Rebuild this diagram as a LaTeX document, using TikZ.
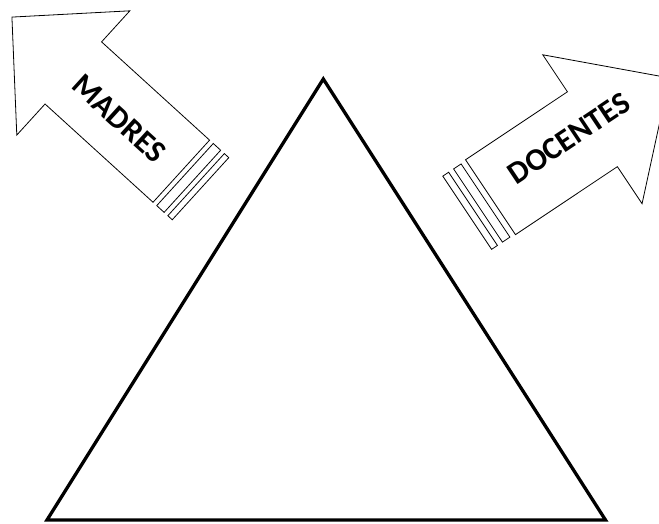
\documentclass[tikz,border=0pt]{standalone}
\usepackage{fontspec}
\setmainfont{Carlito}
\begin{document}
\begin{tikzpicture}[x=1pt,y=1pt,
  arrowline/.style={draw=black,line width=0.8pt,fill=white,line join=miter},
  arrowtext/.style={inner sep=0pt,font=\fontsize{31.5}{31.5}\selectfont\bfseries},
  tri/.style={draw=black,line width=3.3pt,line join=miter}]
\useasboundingbox (0,0) rectangle (659,523);
\clip (0,0) rectangle (659,523);
% triangle
\coordinate (apex) at (323.3,444);
\coordinate (bl) at (47,3);
\coordinate (br) at (605.5,3);
\draw[tri] (apex) -- (bl) -- (br) -- cycle;
% MADRES arrow
\begin{scope}[shift={(181.3,351.8)},rotate=137.7]
  \draw[arrowline] (0,-42) -- (146,-42) -- (146,-84) -- (229,0) -- (146,84) -- (146,42) -- (0,42) -- cycle;
  \draw[arrowline] (-5,-42) rectangle (-15,42);
  \draw[arrowline] (-20,-42) rectangle (-26,42);
  \node[arrowtext,rotate=-42.3] (madres) at (81,2.7) {MADRES};
\end{scope}
% DOCENTES arrow
\begin{scope}[shift={(490.5,325.8)},rotate=33.7]
  \draw[arrowline] (0,-45) -- (122.5,-45) -- (122.5,-89.5) -- (215,0) -- (122.5,89.5) -- (122.5,45) -- (0,45) -- cycle;
  \draw[arrowline] (-6,-44) rectangle (-15,44);
  \draw[arrowline] (-21,-44) rectangle (-28,44);
  \node[arrowtext,rotate=33.7] (docentes) at (98,5.5) {DOCENTES};
\end{scope}
\end{tikzpicture}
\end{document}
